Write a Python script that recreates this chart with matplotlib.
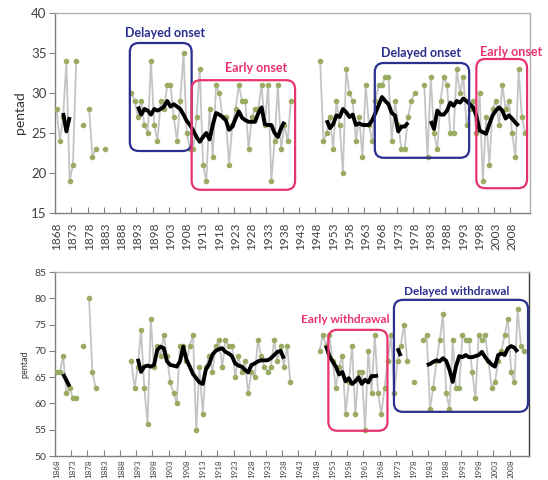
import numpy as np
import matplotlib
matplotlib.use("Agg")
import matplotlib.pyplot as plt
from matplotlib.patches import FancyBboxPatch
from matplotlib.ticker import FixedLocator, NullFormatter

plt.rcParams['font.family'] = ['Lato', 'DejaVu Sans']

N = None
years = list(range(1868, 2013))

# Monsoon onset pentad (grey series), 1868-2012
onset = [
    28, 24, 27, 34, 19, 21, 34, N, 26, N,          # 1868-1877
    28, 22, 23, N, N, 23, N, N, N, N,              # 1878-1887
    N, N, N, 30, 29, 27, 29, 26, 25, 34,           # 1888-1897
    26, 24, 29, 28, 31, 31, 27, 24, 29, 35,        # 1898-1907
    25, 23, 23, 27, 33, 21, 19, 28, 22, 31,        # 1908-1917
    30, 27, 27, 21, 26, 28, 31, 29, 29, 23,        # 1918-1927
    27, 28, 28, 31, 26, 31, 19, 24, 31, 23,        # 1928-1937
    26, 24, 29, N, N, N, N, N, N, N,               # 1938-1947
    N, 34, 24, 25, 27, 23, 29, 26, 20, 33,         # 1948-1957
    30, 29, 24, 27, 22, 31, 26, 24, 29, 31,        # 1958-1967
    31, 32, 32, 24, 29, 26, 23, 23, 27, 29,        # 1968-1977
    30, N, N, 31, 22, 32, 25, 23, 29, 32,          # 1978-1987
    31, 25, 25, 33, 30, 32, 26, 28, 29, 25,        # 1988-1997
    30, 19, 27, 21, 28, 29, 26, 31, 28, 29,        # 1998-2007
    25, 22, 33, 27, 25,                            # 2008-2012
]

# Onset running mean (black)
onset_mean = [
    N, N, 27.5, 25.2, 27, N, N, N, N, N,
    N, N, N, N, N, N, N, N, N, N,
    N, N, N, N, N, 28.3, 27.3, 28, 27.8, 27.3,
    28, 27.8, 28, 28.3, 29, 28.3, 28.6, 28.3, 28, 27.3,
    26.5, 26, 25.3, 24.5, 23.9, 24.5, 25, 24.2, 26, 27.5,
    27.3, 27, 26.6, 25.4, 25.8, 26.8, 27.7, 26.9, 26.6, 26.4,
    26.4, 26.4, 27.5, 28.2, 26.1, 26, 26, 25, 24.5, 25.6,
    26.4, N, N, N, N, N, N, N, N, N,
    N, N, N, 26.6, 25.6, 26.1, 27.2, 27, 28, 27.6,
    27, 27.3, 26, 26.2, 26, 26, 26, 26.6, 27.5, 28.5,
    29.5, 29, 28.6, 27.5, 27.2, 25.2, 25.8, 25.8, 26.3, N,
    N, N, N, N, N, 26.5, 25.5, 27.8, 27.3, 27.3,
    27.8, 28.8, 28.4, 29, 28.8, 29.3, 29, 28.6, 28.2, 27.2,
    25.3, 25.1, 24.9, 26.1, 27.2, 27.8, 28.2, 27.8, 26.8, 27.2,
    26.8, 26.3, 25.9, N, N,
]

# Monsoon withdrawal pentad (grey series), 1868-2012
withdrawal = [
    66, 66, 69, 62, 63, 61, 61, N, 71, N,          # 1868-1877
    80, 66, 63, N, N, N, N, N, N, N,               # 1878-1887
    N, N, N, 68, 63, 67, 74, 63, 56, 76,           # 1888-1897
    67, 71, 69, 73, 69, 64, 62, 60, 71, 71,        # 1898-1907
    68, 71, 73, 55, 67, 58, 67, 69, 66, 71,        # 1908-1917
    72, 67, 72, 71, 71, 65, 69, 66, 68, 62,        # 1918-1927
    66, 65, 72, 69, 67, 66, 67, 72, 68, 71,        # 1928-1937
    67, 71, 64, N, N, N, N, N, N, N,               # 1938-1947
    N, 70, 73, 71, 73, 68, 63, 67, 69, 58,         # 1948-1957
    64, 71, 58, 66, 66, 55, 70, 62, 73, 62,        # 1958-1967
    58, 63, 68, 73, 62, 68, 71, 75, 68, N,         # 1968-1977
    64, N, N, 72, 73, 59, 63, 68, 72, 77,          # 1978-1987
    62, 59, 72, 63, 63, 73, 72, 72, 66, 61,        # 1988-1997
    73, 72, 73, 68, 63, 64, 68, 70, 73, 76,        # 1998-2007
    66, 64, 78, 71, 70,                            # 2008-2012
]

# Withdrawal running mean (black)
withdrawal_mean = [
    N, N, 65.6, 64.4, 63.2, N, N, N, N, N,
    N, N, N, N, N, N, N, N, N, N,
    N, N, N, N, N, 68.5, 66, 67, 67.2, 67,
    67.3, 70.2, 70.8, 70.5, 68, 67.3, 67.2, 67, 68, 70.8,
    68.3, 67, 65.6, 64.8, 64, 63.7, 66.5, 67.5, 69.3, 70,
    70.3, 70.5, 69.8, 69.5, 69, 67.6, 67.2, 67, 66.4, 65.9,
    67.3, 67.6, 68, 68.2, 68.2, 68.2, 68.6, 69.2, 69.8, 70,
    68.5, N, N, N, N, N, N, N, N, N,
    N, N, N, 71, 69, 68, 67, 65.5, 66, 64.2,
    64.8, 63.7, 64.2, 65, 63.7, 64.5, 64, 65.2, 65.2, 65.3,
    N, N, N, N, N, 70.5, 69, N, N, N,
    N, N, N, N, 67.3, 67.5, 67.9, 68.2, 68, 68.6,
    68.1, 66.4, 64.1, 67, 69, 68.8, 69.2, 68.8, 68.8, 69,
    69.2, 69.8, 68.8, 68, 67.4, 67, 69.2, 69.5, 69.2, 70.5,
    70.9, 70.6, 69.8, N, N,
]

tick_years = list(range(1868, 2009, 5))
tick_labels = [str(y) for y in tick_years]

onset_ticks = [15, 20, 25, 30, 35, 40]
withdrawal_ticks = [50, 55, 60, 65, 70, 75, 80, 85]

# annotation boxes: (label, x0, x1, y0, y1, kind, text x, text y)
onset_boxes = [
    ("Delayed onset", 1890.5, 1909.5, 22.75, 36.25, "delayed", 1901.4, 37.5),
    ("Early onset", 1909.5, 1941.3, 17.9, 31.6, "early", 1929.2, 33.1),
    ("Delayed onset", 1965.8, 1994.8, 21.9, 33.75, "delayed", 1980.0, 35.0),
    ("Early onset", 1997.0, 2012.6, 18.1, 34.25, "early", 2007.8, 35.1),
]
withdrawal_boxes = [
    ("Early withdrawal", 1951.7, 1969.9, 54.8, 74.0, "early", 1957.0, 75.9),
    ("Delayed withdrawal", 1971.9, 2013.2, 58.4, 79.7, "delayed", 1991.3, 81.2),
]

BLUE = "#2b2f8e"
PINK = "#e8336c"
GREY = "#c4c4c4"
DOT = "#9aab62"
colors = {"delayed": BLUE, "early": PINK}

W, H = 548, 480
fig = plt.figure(figsize=(W / 100, H / 100), dpi=100)

def to_arr(v):
    return np.array([np.nan if a is None else a for a in v], dtype=float)

def panel(rect, vals, mean, ylim, yticks, boxes, tick_fs, ylabel_fs, label_fs,
          label_pad, ann_fs):
    ax = fig.add_axes(rect)
    x = np.array(years, dtype=float)
    v = to_arr(vals)
    m = to_arr(mean)
    ax.plot(x, v, color=GREY, lw=1.3, zorder=2)
    ax.plot(x, v, ls='none', marker='o', ms=3.0, mfc=DOT, mec=DOT, zorder=3)
    ax.plot(x, m, color='black', lw=2.8, zorder=4, solid_capstyle='butt')
    ax.set_xlim(1867.5, 2013.5)
    ax.set_ylim(*ylim)
    ax.set_yticks(yticks)
    ax.tick_params(axis='y', direction='out', length=4, width=0.8, color='#808080',
                   labelsize=tick_fs, labelcolor='#404040', pad=2)
    ax.xaxis.set_major_locator(FixedLocator(tick_years))
    ax.set_xticklabels(tick_labels, rotation=90)
    ax.tick_params(axis='x', which='major', length=0, labelsize=label_fs,
                   labelcolor='#404040', pad=label_pad)
    ax.xaxis.set_minor_locator(FixedLocator([t - 0.5 for t in tick_years[1:]]))
    ax.xaxis.set_minor_formatter(NullFormatter())
    ax.tick_params(axis='x', which='minor', direction='in', length=4, width=0.8, color='#808080')
    ax.set_ylabel('pentad', fontsize=ylabel_fs, color='#333333', labelpad=4)
    for s in ['left', 'bottom']:
        ax.spines[s].set_color('#7f7f7f')
        ax.spines[s].set_linewidth(1.0)
    for s in ['top', 'right']:
        ax.spines[s].set_color('#b0b0b0')
        ax.spines[s].set_linewidth(1.0)
    fig_w_px = rect[2] * W
    fig_h_px = rect[3] * H
    px_x = fig_w_px / (2013.5 - 1867.5)
    px_y = fig_h_px / (ylim[1] - ylim[0])
    aspect = px_x / px_y
    for (lab, x0, x1, y0, y1, kind, tx, ty) in boxes:
        c = colors[kind]
        r = 9.0 / px_x
        p = FancyBboxPatch((x0, y0), x1 - x0, y1 - y0,
                           boxstyle=f"round,pad=0,rounding_size={r}",
                           mutation_aspect=aspect, fill=False, ec=c, lw=1.6,
                           zorder=5, clip_on=False)
        ax.add_patch(p)
        ax.text(tx, ty, lab, color=c, fontsize=ann_fs, fontweight='bold',
                ha='center', va='center', zorder=6, clip_on=False)
    return ax

ax1 = panel([55 / W, (H - 213) / H, 475 / W, 200 / H], onset, onset_mean,
            (15, 40), onset_ticks, onset_boxes, 9.5, 10, 8.5, 7, 9)
ax2 = panel([55 / W, (H - 456) / H, 474 / W, 184 / H], withdrawal, withdrawal_mean,
            (50, 85), withdrawal_ticks, withdrawal_boxes, 7.5, 6.5, 5.8, 2.5, 8.5)
ax2.spines['right'].set_color('#404040')

fig.savefig('out.png', dpi=100)
